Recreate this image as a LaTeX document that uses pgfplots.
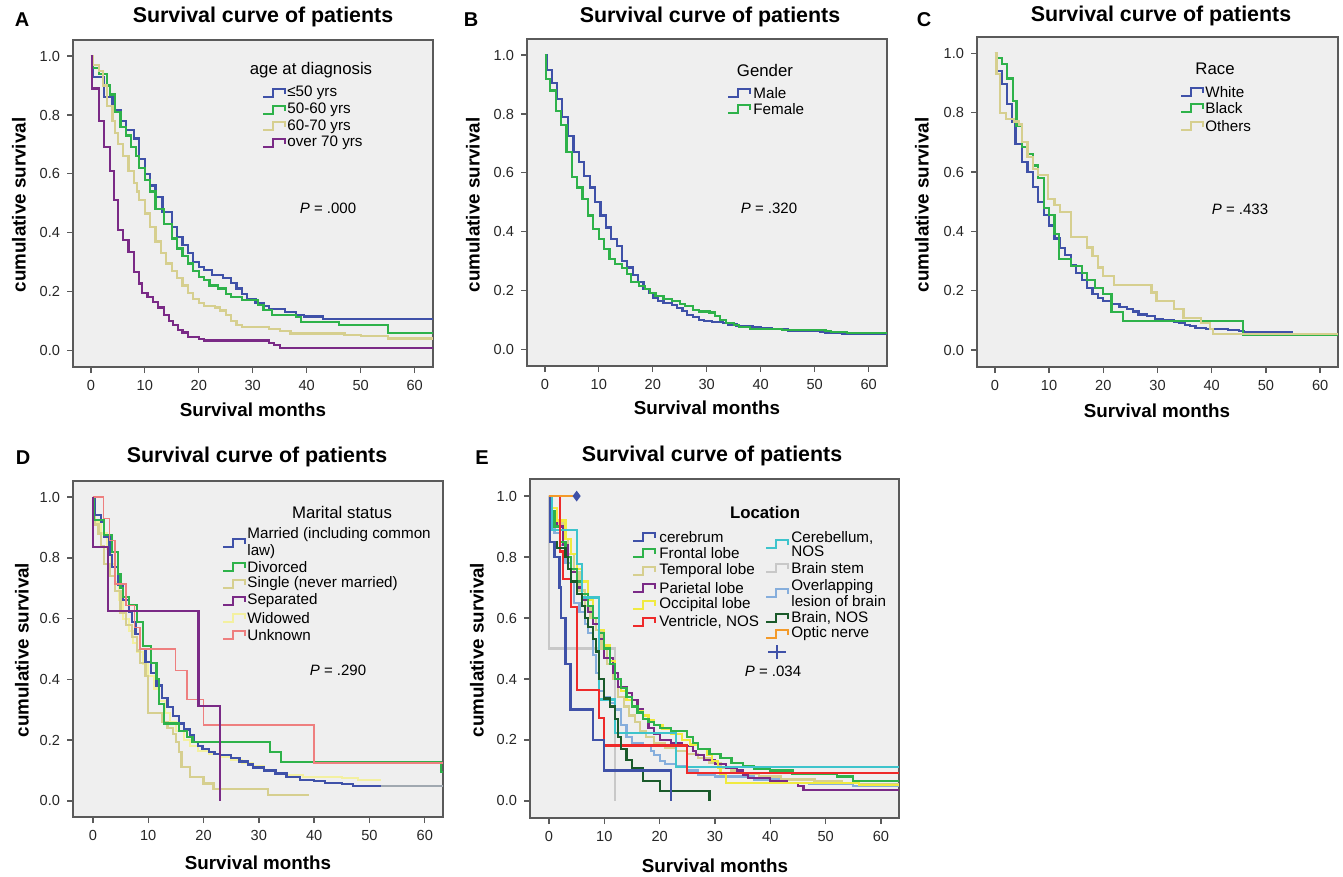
\documentclass[border=0pt]{standalone}
\usepackage{fontspec}
\setmainfont{Liberation Sans}
\usepackage{pgfplots}
\pgfplotsset{compat=1.18}

\definecolor{bgray}{HTML}{EFEFEF}
\definecolor{framegray}{HTML}{5A5A5A}
\definecolor{kblue}{HTML}{3F51A8}
\definecolor{kgreen}{HTML}{2EB24A}
\definecolor{ktan}{HTML}{D6CF8F}
\definecolor{kpurple}{HTML}{7A2A86}
\definecolor{kpale}{HTML}{F3F0A0}
\definecolor{kpink}{HTML}{EE7F7F}
\definecolor{kyellow}{HTML}{F0EA40}
\definecolor{kred}{HTML}{EE2A2A}
\definecolor{kcyan}{HTML}{3EC4CC}
\definecolor{kstem}{HTML}{C8C8C8}
\definecolor{klblue}{HTML}{86AEDC}
\definecolor{kdgreen}{HTML}{1A5A2A}
\definecolor{korange}{HTML}{F39A2A}
\definecolor{kgrayline}{HTML}{A0A8B0}

\newcommand{\ttlfont}{\fontsize{10.7}{12}\selectfont\bfseries}
\newcommand{\labfont}{\fontsize{9.4}{11}\selectfont\bfseries}
\newcommand{\letfont}{\fontsize{10}{12}\selectfont\bfseries}
\newcommand{\legtfont}{\fontsize{8.4}{10}\selectfont}
\newcommand{\legfont}{\fontsize{7.6}{7}\selectfont}
\newcommand{\pfont}{\fontsize{7.5}{9}\selectfont}
% legend glyph: x y colour (px, y downwards)
\newcommand{\lgl}[3]{\draw[#3, line width=1pt] (#1,#2+4) -- (#1+10,#2+4) -- (#1+10,#2-4) -- (#1+22,#2-4) -- (#1+22,#2+1);}

\pgfplotsset{km/.style={
  scale only axis, anchor=south west, const plot,
  axis background/.style={fill=bgray},
  axis line style={framegray, line width=1pt},
  xtick={0,10,20,30,40,50,60}, ytick={0,0.2,0.4,0.6,0.8,1.0},
  tick align=outside, tick pos=left, major tick length=3pt,
  tick style={framegray, line width=0.7pt},
  tick label style={font=\fontsize{7.3}{8}\selectfont, text=black!85},
  /pgf/number format/assume math mode=true,
  yticklabel style={/pgf/number format/fixed, /pgf/number format/fixed zerofill, /pgf/number format/precision=1},
  every axis plot/.append style={line width=1.1pt}}}

\begin{document}
\begin{tikzpicture}
\useasboundingbox (0,0) rectangle (671.5pt,-438.5pt);

% ---------- A ----------
\begin{axis}[km, at={(36.5pt,-183.5pt)}, width=180pt, height=163.5pt,
  xmin=-3.3, xmax=63.4, ymin=-0.057, ymax=1.055]
\addplot[kblue] coordinates {(0,1) (0.4,0.93) (2.5,0.86) (4,0.815) (5.5,0.78) (6.5,0.75) (8,0.72) (9,0.65) (10,0.60) (11,0.56) (12,0.52) (13.3,0.47) (15,0.42) (16,0.385) (17,0.357) (18,0.33) (19,0.30) (20,0.283) (21,0.272) (22.5,0.255) (24.5,0.245) (26,0.23) (27,0.21) (28,0.19) (29,0.175) (30.5,0.16) (32,0.15) (33,0.14) (36,0.13) (38,0.12) (39.5,0.115) (43,0.105) (63.4,0.105)};
\addplot[kgreen] coordinates {(0,1) (0.3,0.96) (1.5,0.94) (3,0.90) (3.5,0.87) (4.5,0.81) (5.5,0.76) (6.5,0.73) (7.5,0.69) (8.3,0.66) (9,0.62) (10,0.58) (11,0.54) (12,0.48) (13.5,0.43) (15,0.38) (16,0.346) (17,0.32) (18,0.295) (19,0.27) (20,0.25) (21,0.238) (22,0.22) (23.5,0.21) (25,0.19) (26,0.18) (28,0.17) (31,0.153) (32,0.136) (33.5,0.12) (38,0.113) (39,0.096) (46,0.085) (55,0.059) (63.4,0.059)};
\addplot[ktan] coordinates {(0,1) (0.3,0.97) (1.5,0.95) (2.3,0.90) (3,0.83) (4,0.78) (4.5,0.74) (5,0.70) (6,0.66) (7,0.61) (8,0.57) (8.5,0.54) (9,0.51) (10,0.465) (11,0.42) (12,0.37) (13,0.33) (14,0.295) (15,0.27) (16,0.245) (17,0.22) (18,0.195) (19,0.175) (20,0.16) (21,0.15) (23,0.145) (24,0.135) (25,0.12) (26,0.10) (27,0.085) (28,0.078) (33,0.072) (35,0.065) (37,0.057) (47,0.052) (50,0.048) (55,0.04) (63.4,0.04)};
\addplot[kpurple] coordinates {(0,1) (0.2,0.89) (1.5,0.78) (2.5,0.69) (3.5,0.61) (4.3,0.51) (5,0.41) (6,0.375) (7,0.335) (8,0.265) (9,0.227) (9.5,0.195) (10.5,0.18) (11.5,0.165) (12.5,0.145) (13.5,0.12) (14.5,0.10) (15.3,0.085) (16.2,0.07) (17,0.06) (18,0.045) (20,0.038) (21,0.033) (33,0.025) (34,0.017) (35,0.007) (63.4,0.007)};
\end{axis}

% ---------- B ----------
\begin{axis}[km, at={(263.5pt,-183pt)}, width=180pt, height=163.5pt,
  xmin=-3.3, xmax=63.4, ymin=-0.057, ymax=1.055]
\addplot[kblue] coordinates {(0,1) (0.3,0.95) (1.3,0.905) (2.3,0.85) (3.2,0.79) (4.3,0.725) (5.3,0.67) (6.3,0.638) (7.3,0.59) (8.3,0.55) (9.3,0.50) (10.3,0.455) (11.3,0.414) (12.3,0.376) (13.3,0.35) (14.3,0.30) (15.3,0.278) (16.3,0.253) (17.3,0.228) (18.3,0.205) (19.3,0.19) (20,0.175) (21,0.165) (22,0.157) (23.5,0.15) (24.5,0.14) (25.5,0.13) (26.3,0.117) (27.5,0.11) (28.5,0.10) (29.5,0.095) (31,0.092) (33,0.088) (34,0.084) (35.5,0.08) (37,0.077) (38.5,0.074) (40,0.071) (42,0.069) (44,0.067) (45,0.064) (46,0.061) (51,0.059) (52,0.057) (55,0.052) (63.4,0.052)};
\addplot[kgreen] coordinates {(0,1) (0.2,0.92) (1,0.88) (2,0.81) (3,0.763) (4,0.67) (5,0.587) (6,0.55) (7,0.51) (8,0.455) (9,0.41) (10,0.376) (11,0.34) (12,0.306) (13,0.29) (14.3,0.275) (15.3,0.255) (16,0.228) (17.5,0.215) (18.5,0.205) (19.5,0.19) (20.5,0.18) (22,0.172) (23.5,0.163) (25,0.155) (26,0.147) (27.5,0.133) (28.5,0.128) (30.5,0.125) (31.5,0.113) (32.5,0.10) (33.5,0.09) (35,0.083) (36,0.075) (38,0.07) (42,0.068) (44,0.066) (52,0.063) (53,0.058) (56,0.055) (63.4,0.055)};
\end{axis}

% ---------- C ----------
\begin{axis}[km, at={(488.5pt,-183.5pt)}, width=180.5pt, height=165pt,
  xmin=-3.3, xmax=63.3, ymin=-0.057, ymax=1.055]
\addplot[kblue] coordinates {(0,1) (0.3,0.94) (1.3,0.896) (2.3,0.83) (3.1,0.77) (3.8,0.695) (5,0.634) (6,0.60) (7,0.55) (8,0.498) (9,0.455) (10,0.42) (11,0.376) (12,0.345) (13,0.32) (14,0.285) (15,0.26) (16,0.235) (17,0.21) (18,0.19) (19,0.175) (20,0.165) (21.5,0.155) (23,0.145) (24.3,0.138) (25.5,0.13) (26.5,0.12) (28,0.115) (29.5,0.105) (31,0.10) (33,0.095) (34,0.09) (35,0.085) (36,0.08) (37,0.075) (39,0.072) (41,0.07) (43,0.067) (45,0.064) (46,0.062) (52,0.06) (55,0.06)};
\addplot[kgreen] coordinates {(0,1) (0.3,0.985) (1.3,0.965) (2.3,0.915) (3.3,0.84) (4,0.757) (5,0.684) (6,0.66) (7,0.622) (8,0.58) (9,0.48) (10,0.455) (11,0.39) (11.8,0.306) (14,0.284) (16,0.26) (17,0.235) (18.5,0.21) (20,0.188) (21.5,0.128) (23.6,0.098) (45.8,0.05) (63.3,0.05)};
\addplot[ktan] coordinates {(0,1) (0.3,0.93) (1,0.80) (2,0.78) (3.5,0.77) (4.5,0.76) (5,0.70) (6,0.65) (7,0.611) (8,0.59) (9.8,0.51) (11,0.49) (12,0.465) (14,0.38) (17,0.346) (18,0.318) (19,0.278) (20,0.25) (22,0.219) (28.9,0.194) (29.8,0.166) (33,0.138) (34.8,0.109) (38,0.09) (39.7,0.07) (40.3,0.055) (63.3,0.055)};
\end{axis}

% ---------- D ----------
\begin{axis}[km, at={(36.5pt,-408.5pt)}, width=185pt, height=168pt,
  xmin=-3.6, xmax=63.3, ymin=-0.053, ymax=1.053]
\addplot[kgrayline] coordinates {(52,0.05) (63.3,0.05)};
\addplot[kpale] coordinates {(0,1) (0.3,0.92) (1.5,0.88) (2.5,0.83) (3.2,0.78) (4,0.72) (4.7,0.66) (5.5,0.60) (6.5,0.56) (7.2,0.52) (8,0.49) (9,0.45) (10,0.41) (11,0.37) (12,0.33) (13,0.29) (14,0.26) (15,0.23) (16.5,0.20) (17.5,0.18) (19,0.165) (21,0.155) (23,0.145) (25,0.135) (27,0.125) (29,0.115) (31,0.10) (33,0.09) (35,0.085) (38,0.08) (45,0.075) (48,0.068) (52,0.068)};
\addplot[ktan] coordinates {(0,1) (0.3,0.91) (1,0.88) (1.5,0.84) (2,0.78) (3,0.74) (4,0.69) (5,0.62) (6,0.58) (7,0.54) (8,0.495) (8.5,0.455) (9.5,0.41) (10,0.29) (12.5,0.26) (13.5,0.24) (14.5,0.22) (15,0.195) (15.5,0.16) (16,0.112) (17.5,0.079) (20,0.057) (21.8,0.04) (31.7,0.019) (39,0.019)};
\addplot[kblue] coordinates {(0,1) (0.3,0.94) (1.5,0.92) (2,0.87) (3,0.81) (3.5,0.77) (4.5,0.71) (5.5,0.66) (6.5,0.623) (7,0.59) (7.7,0.55) (8.5,0.50) (9.5,0.458) (10.5,0.42) (11.5,0.38) (12.5,0.34) (13.5,0.31) (14.5,0.28) (15.5,0.255) (16.5,0.235) (17.5,0.216) (18.3,0.195) (19,0.18) (19.8,0.17) (21,0.16) (22,0.155) (23,0.15) (25,0.14) (26.5,0.13) (28,0.12) (29,0.11) (31,0.10) (33,0.09) (35,0.08) (37.5,0.07) (40,0.065) (42,0.06) (45,0.055) (47,0.05) (52,0.05)};
\addplot[kgreen] coordinates {(0,1) (0.2,0.925) (2,0.876) (3.5,0.82) (4.5,0.747) (5,0.70) (5.5,0.672) (6.5,0.645) (8,0.59) (9,0.511) (10.5,0.455) (11.5,0.40) (12,0.32) (12.8,0.255) (15.5,0.23) (17,0.21) (18,0.195) (32,0.16) (34,0.128) (63,0.095) (63.3,0.095)};
\addplot[kpink, line width=0.7pt] coordinates {(0,1) (1.9,0.929) (3,0.857) (4,0.714) (6,0.643) (7.5,0.571) (8.5,0.50) (14.9,0.429) (17,0.333) (20,0.25) (40,0.125) (63.3,0.125)};
\addplot[kpurple] coordinates {(0,1) (0,0.835) (2.8,0.626) (19.1,0.313) (23,0)};
\end{axis}

% ---------- E ----------
\begin{axis}[km, at={(265pt,-409pt)}, width=184.5pt, height=169.5pt,
  xmin=-3.43, xmax=63.26, ymin=-0.056, ymax=1.056]
\addplot[kstem] coordinates {(0,1) (0,0.5) (12,0)};
\addplot[klblue] coordinates {(0,1) (0.3,0.93) (1,0.88) (2,0.84) (3,0.78) (4,0.72) (4.5,0.65) (5.5,0.62) (6.5,0.58) (7,0.55) (8,0.48) (8.5,0.42) (9,0.36) (10,0.34) (11,0.32) (12,0.30) (13,0.25) (14,0.21) (15,0.19) (17,0.18) (18.5,0.165) (19,0.15) (20,0.13) (21,0.12) (23,0.115) (25,0.10) (27,0.085) (30,0.08) (37,0.07) (42,0.06) (47,0.055) (55,0.05) (63.3,0.05)};
\addplot[ktan] coordinates {(0,1) (0.5,0.96) (1.5,0.91) (2.5,0.86) (3.5,0.81) (4.5,0.75) (5.5,0.69) (6.5,0.64) (7.5,0.60) (8.5,0.56) (9.5,0.50) (10.5,0.45) (11.5,0.40) (12.5,0.34) (13.5,0.31) (14.5,0.28) (15.5,0.26) (16.5,0.23) (17.5,0.21) (19,0.19) (21,0.175) (23,0.165) (25,0.155) (27,0.14) (29,0.125) (31,0.11) (33,0.10) (35,0.09) (38,0.08) (42,0.07) (48,0.065) (53,0.06) (56,0.055) (63.3,0.055)};
\addplot[kpurple] coordinates {(0,1) (0.5,0.95) (1.5,0.90) (2.5,0.84) (3.5,0.80) (4,0.75) (5,0.70) (6,0.66) (7,0.62) (8,0.58) (9,0.53) (10,0.47) (11.5,0.42) (12.5,0.373) (14,0.355) (15,0.33) (16,0.30) (17,0.27) (18,0.24) (19,0.22) (20,0.20) (22,0.19) (24,0.18) (26,0.165) (26.5,0.15) (28,0.135) (30,0.12) (32,0.11) (34,0.10) (35,0.085) (36,0.075) (40,0.065) (43,0.058) (45,0.05) (46,0.035) (63.3,0.035)};
\addplot[kyellow] coordinates {(0,1) (0.5,0.96) (1.5,0.92) (3,0.86) (4,0.81) (5,0.76) (6,0.72) (7,0.66) (8,0.60) (9,0.56) (10,0.51) (11,0.46) (12,0.40) (13,0.36) (14,0.33) (15,0.31) (16,0.295) (17,0.28) (18,0.265) (19,0.25) (20.5,0.235) (22,0.22) (24,0.20) (25.5,0.185) (27,0.17) (28.5,0.15) (29.5,0.13) (30.5,0.11) (31,0.09) (32,0.06) (40,0.058) (56,0.052) (63.3,0.052)};
\addplot[kgreen] coordinates {(0,1) (0.3,0.95) (1,0.90) (2,0.85) (3,0.80) (4,0.76) (5,0.72) (6,0.68) (7,0.64) (8,0.60) (9,0.55) (10,0.50) (11,0.45) (12,0.40) (13,0.37) (14,0.34) (15,0.31) (16,0.29) (17,0.27) (18,0.26) (19,0.25) (20,0.24) (22,0.23) (25,0.21) (26,0.19) (27,0.17) (29,0.155) (31,0.14) (33,0.125) (35,0.115) (37,0.105) (40,0.10) (44,0.09) (52,0.08) (55,0.065) (63.3,0.065)};
\addplot[kcyan] coordinates {(0,1) (0.5,0.889) (5,0.778) (6,0.667) (9,0.333) (12,0.222) (23,0.111) (63.3,0.111)};
\addplot[kred] coordinates {(0,1) (2,0.818) (2.5,0.727) (4,0.636) (5,0.364) (9,0.273) (10,0.182) (25,0.091) (63.3,0.091)};
\addplot[kdgreen] coordinates {(0,1) (0.2,0.85) (1.5,0.83) (3,0.80) (3.5,0.76) (4,0.72) (5,0.68) (6,0.64) (6.5,0.60) (7,0.57) (8,0.53) (8.5,0.49) (9,0.40) (10,0.336) (11,0.31) (12,0.27) (12.5,0.21) (13,0.17) (14,0.135) (15,0.107) (17,0.066) (20,0.033) (29,0)};
\addplot[kblue] coordinates {(0,1) (0.2,0.85) (1,0.80) (1.9,0.70) (2.1,0.60) (3,0.45) (3.9,0.30) (8,0.20) (10,0.10) (22,0)};
\addplot[korange] coordinates {(0,1) (5,1)};
\addplot[only marks, mark=diamond*, mark size=1.8pt, kblue] coordinates {(5,1)};
\end{axis}

\begin{scope}[x=0.5pt,y=-0.5pt]
% panel letters and titles
\node[font=\letfont] at (22,20) {A};
\node[font=\letfont] at (471,20) {B};
\node[font=\letfont] at (924,20) {C};
\node[font=\letfont] at (23,458) {D};
\node[font=\letfont] at (482,458) {E};
\foreach \x/\y in {263/17, 710/17, 1161/16, 257/457, 712/456}
  \node[font=\ttlfont] at (\x,\y) {Survival curve of patients};
\foreach \x/\y in {253/410, 707/408, 1157/411, 258/863, 715/866}
  \node[font=\labfont] at (\x,\y) {Survival months};
\foreach \x/\y in {19/205, 473/205, 922/205, 22/650, 477/650}
  \node[font=\labfont, rotate=90] at (\x,\y) {cumulative survival};

% legend A
\node[font=\legtfont] at (311,70) {age at diagnosis};
\lgl{263}{93}{kblue} \node[font=\legfont, anchor=west, inner sep=0pt] at (287,93) {≤50 yrs};
\lgl{263}{110}{kgreen} \node[font=\legfont, anchor=west, inner sep=0pt] at (287,110) {50-60 yrs};
\lgl{263}{126.5}{ktan} \node[font=\legfont, anchor=west, inner sep=0pt] at (287,126.5) {60-70 yrs};
\lgl{263}{143}{kpurple} \node[font=\legfont, anchor=west, inner sep=0pt] at (287,143) {over 70 yrs};
\node[font=\pfont] at (328,208) {\textit{P} = .000};

% legend B
\node[font=\legtfont] at (765,70) {Gender};
\lgl{728}{93}{kblue} \node[font=\legfont, anchor=west, inner sep=0pt] at (753,93) {Male};
\lgl{728}{109}{kgreen} \node[font=\legfont, anchor=west, inner sep=0pt] at (753,109) {Female};
\node[font=\pfont] at (769,208) {\textit{P} = .320};

% legend C
\node[font=\legtfont] at (1215,69) {Race};
\lgl{1181}{92}{kblue} \node[font=\legfont, anchor=west, inner sep=0pt] at (1205,92) {White};
\lgl{1181}{108}{kgreen} \node[font=\legfont, anchor=west, inner sep=0pt] at (1205,108) {Black};
\lgl{1181}{126}{ktan} \node[font=\legfont, anchor=west, inner sep=0pt] at (1205,126) {Others};
\node[font=\pfont] at (1240,209) {\textit{P} = .433};

% legend D
\node[font=\legtfont] at (342,512) {Marital status};
\lgl{223}{543}{kblue} \node[font=\legfont, anchor=west, inner sep=0pt, align=left] at (247,543) {Married (including common\\law)};
\lgl{223}{567}{kgreen} \node[font=\legfont, anchor=west, inner sep=0pt] at (247,567) {Divorced};
\lgl{223}{584}{ktan} \node[font=\legfont, anchor=west, inner sep=0pt] at (247,584) {Single (never married)};
\lgl{223}{601}{kpurple} \node[font=\legfont, anchor=west, inner sep=0pt] at (247,601) {Separated};
\lgl{223}{618}{kpale} \node[font=\legfont, anchor=west, inner sep=0pt] at (247,618) {Widowed};
\lgl{223}{635}{kpink} \node[font=\legfont, anchor=west, inner sep=0pt] at (247,635) {Unknown};
\node[font=\pfont] at (338,670) {\textit{P} = .290};

% legend E
\node[font=\legtfont\bfseries] at (765,512) {Location};
\lgl{633}{537}{kblue} \node[font=\legfont, anchor=west, inner sep=0pt] at (659,537) {cerebrum};
\lgl{633}{553}{kgreen} \node[font=\legfont, anchor=west, inner sep=0pt] at (659,553) {Frontal lobe};
\lgl{633}{571}{ktan} \node[font=\legfont, anchor=west, inner sep=0pt] at (659,571) {Temporal lobe};
\lgl{633}{588}{kpurple} \node[font=\legfont, anchor=west, inner sep=0pt] at (659,588) {Parietal lobe};
\lgl{633}{605}{kyellow} \node[font=\legfont, anchor=west, inner sep=0pt] at (659,605) {Occipital lobe};
\lgl{633}{622}{kred} \node[font=\legfont, anchor=west, inner sep=0pt] at (659,622) {Ventricle, NOS};
\lgl{766}{544}{kcyan} \node[font=\legfont, anchor=west, inner sep=0pt, align=left] at (791,544) {Cerebellum,\\NOS};
\lgl{766}{568}{kstem} \node[font=\legfont, anchor=west, inner sep=0pt] at (791,568) {Brain stem};
\lgl{766}{593}{klblue} \node[font=\legfont, anchor=west, inner sep=0pt, align=left] at (791,593) {Overlapping\\lesion of brain};
\lgl{766}{618}{kdgreen} \node[font=\legfont, anchor=west, inner sep=0pt] at (791,618) {Brain, NOS};
\lgl{766}{634}{korange} \node[font=\legfont, anchor=west, inner sep=0pt] at (791,634) {Optic nerve};
\draw[kblue, line width=1pt] (768,652) -- (786,652) (777,645) -- (777,659);
\node[font=\pfont] at (773,671) {\textit{P} = .034};
\end{scope}
\end{tikzpicture}
\end{document}
